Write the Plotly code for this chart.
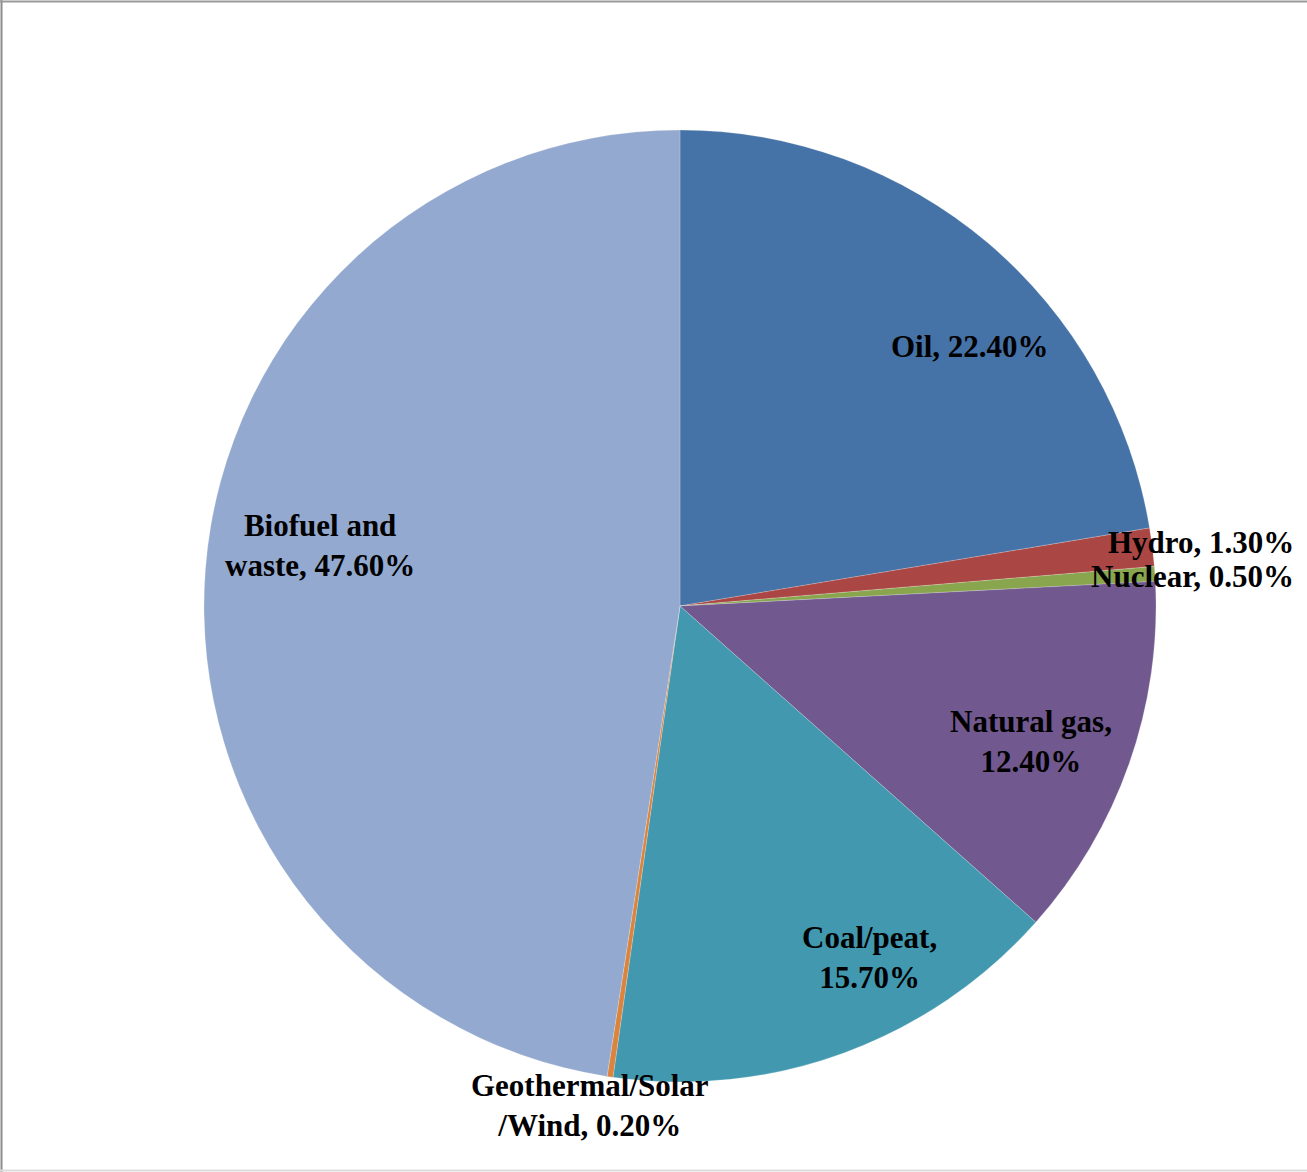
import plotly.graph_objects as go

W, H = 1307, 1172

categories = ["Oil", "Hydro", "Nuclear", "Natural gas", "Coal/peat",
              "Geothermal/Solar/Wind", "Biofuel and waste"]
values = [22.4, 1.3, 0.5, 12.4, 15.7, 0.2, 47.6]
label_texts = ["Oil, 22.40%", "Hydro, 1.30%", "Nuclear, 0.50%",
               "Natural gas,<br>12.40%", "Coal/peat,<br>15.70%",
               "Geothermal/Solar<br>/Wind, 0.20%", "Biofuel and<br>waste, 47.60%"]
colors = ["#4572A7", "#AA4643", "#89A54E", "#71588F", "#4198AF", "#DB843D", "#93A9CF"]

# pie geometry in pixels
cx, cy, R = 680, 606, 476

fig = go.Figure(go.Pie(
    labels=categories, values=values, sort=False, direction="clockwise",
    rotation=0, textinfo="none", hoverinfo="label+percent",
    marker=dict(colors=colors, line=dict(color="rgba(255,255,255,0.4)", width=0.5)),
    domain=dict(x=[(cx - R) / W, (cx + R) / W], y=[1 - (cy + R) / H, 1 - (cy - R) / H]),
    showlegend=False,
))

# label placements (pixel positions of text anchors)
label_pos = {
    "Oil": (970, 346, "center"),
    "Hydro": (1296, 542, "right"),
    "Nuclear": (1296, 576, "right"),
    "Natural gas": (1031, 741, "center"),
    "Coal/peat": (869, 958, "center"),
    "Geothermal/Solar/Wind": (590, 1105, "center"),
    "Biofuel and waste": (320, 546, "center"),
}
annotations = []
for cat, txt in zip(categories, label_texts):
    x, y, anc = label_pos[cat]
    annotations.append(dict(
        x=x / W, y=1 - y / H, xref="paper", yref="paper", text=txt, showarrow=False,
        xanchor=anc, yanchor="middle", align=anc,
        font=dict(family="Liberation Serif", size=31, color="black", weight="bold"),
    ))

shapes = [
    dict(type="line", xref="paper", yref="paper", x0=1.5 / W, x1=1.5 / W, y0=0, y1=1,
         line=dict(color="#8c8c8c", width=2)),
    dict(type="line", xref="paper", yref="paper", x0=0, x1=1, y0=1 - 1.5 / H, y1=1 - 1.5 / H,
         line=dict(color="#9a9a9a", width=2)),
    dict(type="line", xref="paper", yref="paper", x0=0, x1=1, y0=1 - 1170.5 / H, y1=1 - 1170.5 / H,
         line=dict(color="#dcdcdc", width=2)),
]

fig.update_layout(
    width=W, height=H, margin=dict(l=0, r=0, t=0, b=0),
    paper_bgcolor="white", plot_bgcolor="white",
    annotations=annotations, shapes=shapes,
)
fig.write_html("out.html")
